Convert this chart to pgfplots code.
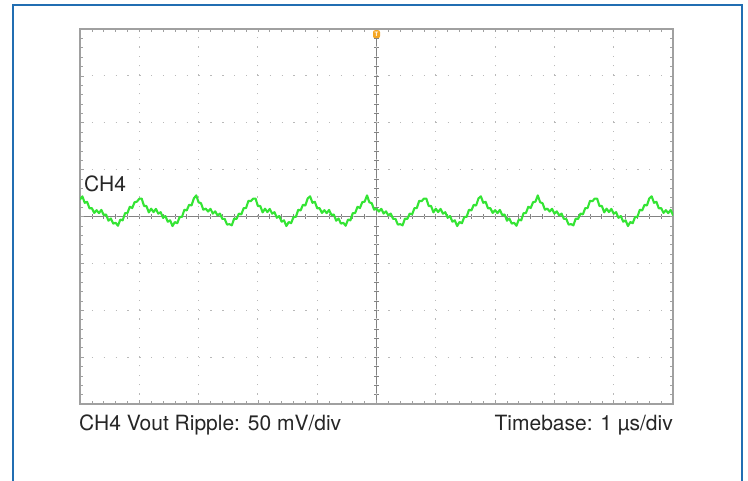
\documentclass[border=0pt]{standalone}
\usepackage{fontspec}
\setmainfont{TeX Gyre Heros}
\usepackage{pgfplots}
\pgfplotsset{compat=1.18}
\definecolor{frameblue}{RGB}{33,110,178}
\definecolor{tracegreen}{RGB}{52,228,52}
\definecolor{gridgray}{RGB}{185,185,185}
\definecolor{bordergray}{RGB}{160,160,160}
\definecolor{centergray}{RGB}{130,130,130}
\definecolor{trigorange}{RGB}{245,166,35}
\begin{document}
\begin{tikzpicture}[x=1bp,y=1bp]
\useasboundingbox (0,0) rectangle (748,481);
\fill[white] (0,0) rectangle (748,481);
\draw[frameblue, line width=2.2bp] (13,-5) -- (13,476) -- (742,476) -- (742,-5);

% centre crosshair of the scope screen (divisions)
\begin{axis}[
  at={(80bp,77bp)}, anchor=south west,
  scale only axis, width=593bp, height=375bp,
  xmin=-5, xmax=5, ymin=-4, ymax=4,
  axis lines=middle,
  axis line style={-, centergray, line width=0.7bp},
  xtick={-5,...,5}, ytick={-4,...,4},
  minor x tick num=4, minor y tick num=4,
  xticklabels={}, yticklabels={},
  tick align=center,
  major tick length=5bp, minor tick length=5bp,
  every tick/.style={centergray, line width=0.7bp},
]
\end{axis}

% screen: grid, border and the trace (x in samples of 40 ns, y in mV)
\begin{axis}[
  at={(80bp,77bp)}, anchor=south west,
  scale only axis, width=593bp, height=375bp,
  xmin=-1, xmax=249, ymin=-200, ymax=200,
  xtick={-1,24,...,249}, ytick={-200,-150,...,200},
  minor x tick num=4, minor y tick num=4,
  xticklabels={}, yticklabels={},
  tick align=inside,
  major tick length=3.5bp, minor tick length=3bp,
  every tick/.style={bordergray, line width=0.7bp},
  axis line style={bordergray, line width=1.2bp},
  grid=major,
  major x grid style={gridgray, line width=1bp, dash pattern=on 1.2bp off 8.18bp},
  major y grid style={gridgray, line width=1bp, dash pattern=on 1.2bp off 10.66bp},
]
\addplot[tracegreen, line width=2.1bp, line join=round] coordinates {
(-1,18.0)
(0,21.5) (1,14.6) (2,15.7) (3,8.7) (4,8.9) (5,3.8) (6,6.7) (7,3.6) (8,7.0) (9,1.6) (10,2.1) (11,-4.5)
(12,-2.1) (13,-7.6) (14,-6.7) (15,-9.9) (16,-3.2) (17,-4.1) (18,3.6) (19,3.7) (20,10.4) (21,9.0) (22,15.2) (23,15.8)
(24,19.0) (25,19.1) (26,11.2) (27,11.2) (28,4.4) (29,8.3) (30,4.7) (31,8.1) (32,3.0) (33,4.6) (34,-1.4) (35,0.5)
(36,-5.6) (37,-4.1) (38,-10.2) (39,-5.9) (40,-7.2) (41,-0.6) (42,-0.4) (43,7.2) (44,6.4) (45,12.5) (46,11.7) (47,19.3)
(48,22.5) (49,15.1) (50,14.2) (51,7.2) (52,8.4) (53,5.3) (54,8.2) (55,3.1) (56,5.5) (57,1.1) (58,3.1) (59,-2.5)
(60,-2.6) (61,-8.6) (62,-8.2) (63,-9.4) (64,-2.2) (65,-2.6) (66,3.1) (67,2.2) (68,8.9) (69,9.0) (70,16.7) (71,16.3)
(72,19.0) (73,19.1) (74,11.2) (75,11.2) (76,4.4) (77,8.3) (78,4.7) (79,8.1) (80,3.0) (81,4.6) (82,-1.4) (83,0.5)
(84,-5.6) (85,-4.1) (86,-10.2) (87,-5.9) (88,-7.2) (89,-0.6) (90,-0.4) (91,7.2) (92,6.4) (93,12.5) (94,11.7) (95,19.3)
(96,21.5) (97,14.6) (98,15.7) (99,8.7) (100,8.9) (101,3.8) (102,6.7) (103,3.6) (104,7.0) (105,1.6) (106,2.1) (107,-4.5)
(108,-2.1) (109,-7.6) (110,-6.7) (111,-9.9) (112,-3.2) (113,-4.1) (114,3.6) (115,3.7) (116,10.4) (117,9.0) (118,15.2) (119,15.8)
(120,22.5) (121,15.1) (122,14.2) (123,7.2) (124,8.4) (125,5.3) (126,8.2) (127,3.1) (128,5.5) (129,1.1) (130,3.1) (131,-2.5)
(132,-2.6) (133,-8.6) (134,-8.2) (135,-9.4) (136,-2.2) (137,-2.6) (138,3.1) (139,2.2) (140,8.9) (141,9.0) (142,16.7) (143,16.3)
(144,19.0) (145,19.1) (146,11.2) (147,11.2) (148,4.4) (149,8.3) (150,4.7) (151,8.1) (152,3.0) (153,4.6) (154,-1.4) (155,0.5)
(156,-5.6) (157,-4.1) (158,-10.2) (159,-5.9) (160,-7.2) (161,-0.6) (162,-0.4) (163,7.2) (164,6.4) (165,12.5) (166,11.7) (167,19.3)
(168,21.5) (169,14.6) (170,15.7) (171,8.7) (172,8.9) (173,3.8) (174,6.7) (175,3.6) (176,7.0) (177,1.6) (178,2.1) (179,-4.5)
(180,-2.1) (181,-7.6) (182,-6.7) (183,-9.9) (184,-3.2) (185,-4.1) (186,3.6) (187,3.7) (188,10.4) (189,9.0) (190,15.2) (191,15.8)
(192,22.5) (193,15.1) (194,14.2) (195,7.2) (196,8.4) (197,5.3) (198,8.2) (199,3.1) (200,5.5) (201,1.1) (202,3.1) (203,-2.5)
(204,-2.6) (205,-8.6) (206,-8.2) (207,-9.4) (208,-2.2) (209,-2.6) (210,3.1) (211,2.2) (212,8.9) (213,9.0) (214,16.7) (215,16.3)
(216,19.0) (217,19.1) (218,11.2) (219,11.2) (220,4.4) (221,8.3) (222,4.7) (223,8.1) (224,3.0) (225,4.6) (226,-1.4) (227,0.5)
(228,-5.6) (229,-4.1) (230,-10.2) (231,-5.9) (232,-7.2) (233,-0.6) (234,-0.4) (235,7.2) (236,6.4) (237,12.5) (238,11.7) (239,19.3)
(240,21.5) (241,14.6) (242,15.7) (243,8.7) (244,8.9) (245,3.8) (246,6.7) (247,3.6) (248,7.0) (249,1.6) (250,2.1)
};
% trigger position marker
\node[fill=trigorange, inner sep=0pt, minimum width=7bp, minimum height=8bp,
      rounded corners=2bp, anchor=north, yshift=-1bp,
      text=white, font=\fontsize{6bp}{6bp}\selectfont\bfseries] at (axis cs:124,200) {T};
\end{axis}

\node[anchor=base west, inner sep=0pt, text=black!85, font=\fontsize{21bp}{24bp}\selectfont] at (84,289) {CH4};
\node[anchor=base west, inner sep=0pt, text=black!85, font=\fontsize{21bp}{24bp}\selectfont] at (79,50) {CH4 Vout Ripple: 50 mV/div};
\node[anchor=base east, inner sep=0pt, text=black!85, font=\fontsize{21bp}{24bp}\selectfont] at (673,50) {Timebase: 1 µs/div};
\end{tikzpicture}
\end{document}
